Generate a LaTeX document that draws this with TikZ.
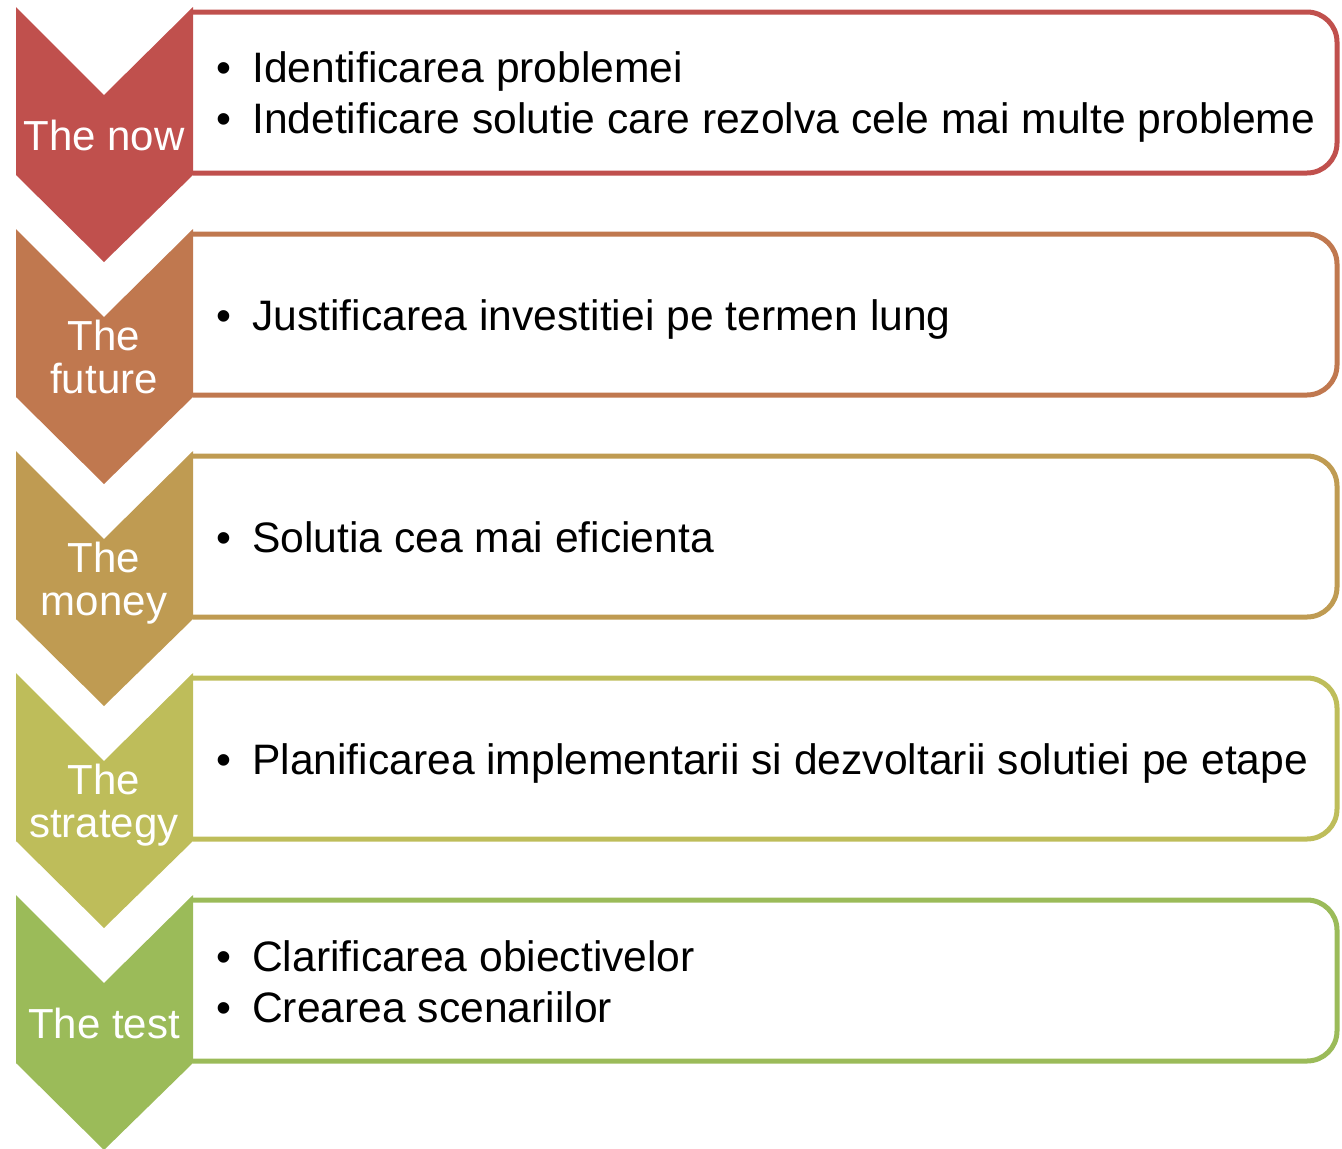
\documentclass[tikz,border=0pt]{standalone}
\usepackage{fontspec}
\setmainfont{Liberation Sans}
\definecolor{cnow}{HTML}{C0504D}
\definecolor{cfuture}{HTML}{C0784F}
\definecolor{cmoney}{HTML}{BF9B52}
\definecolor{cstrategy}{HTML}{BEBD5A}
\definecolor{ctest}{HTML}{9BBB59}
\tikzset{
  chevlabel/.style={anchor=base, text=white, inner sep=0pt, font=\fontsize{42}{44}\selectfont},
  item/.style={anchor=base west, text=black, inner sep=0pt, font=\fontsize{42.6}{44}\selectfont},
}
\newcommand{\bul}{\llap{\textbullet\hspace{21pt}}}
\begin{document}
\begin{tikzpicture}[x=1pt,y=-1pt]
    \useasboundingbox (0,0) rectangle (1342,1149);
    % chevrons and frames
    \foreach \k/\col in {0/cnow,1/cfuture,2/cmoney,3/cstrategy,4/ctest}{
        \pgfmathsetmacro{\t}{7+222*\k}
        \draw[\col, line width=5pt, rounded corners=30pt] (193,\t+5) -- (1337,\t+5) -- (1337,\t+166) -- (193,\t+166);
        \fill[\col] (16,\t) -- (104,\t+88) -- (193,\t) -- (193,\t+168) -- (104,\t+255) -- (16,\t+168) -- cycle;
    }
    % labels
    \node[chevlabel] (now) at (104,150) {The now};
    \node[chevlabel] (future1) at (104,350) {The};
    \node[chevlabel] (future2) at (104,393) {future};
    \node[chevlabel] (money1) at (104,572) {The};
    \node[chevlabel] (money2) at (104,615) {money};
    \node[chevlabel] (strategy1) at (104,794) {The};
    \node[chevlabel] (strategy2) at (104,837) {strategy};
    \node[chevlabel] (test) at (104,1038) {The test};
    % items
    \node[item] (nowa) at (252,82) {\bul Identificarea problemei};
    \node[item] (nowb) at (252,133) {\bul Indetificare solutie care rezolva cele mai multe probleme};
    \node[item] (futurea) at (252,330) {\bul Justificarea investitiei pe termen lung};
    \node[item] (moneya) at (252,552) {\bul Solutia cea mai eficienta};
    \node[item] (strategya) at (252,774) {\bul Planificarea implementarii si dezvoltarii solutiei pe etape};
    \node[item] (testa) at (252,971) {\bul Clarificarea obiectivelor};
    \node[item] (testb) at (252,1022) {\bul Crearea scenariilor};
\end{tikzpicture}
\end{document}
